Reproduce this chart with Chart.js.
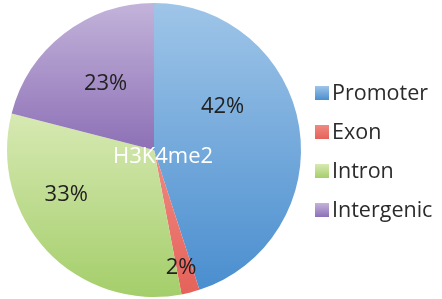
<!DOCTYPE html>
<html>
<head>
<meta charset="utf-8">
<script src="https://cdn.jsdelivr.net/npm/chart.js@4.4.1/dist/chart.umd.min.js"></script>
<style>
  html, body { margin: 0; padding: 0; background: #fff; }
  #wrap { width: 442px; height: 299px; position: relative; }
</style>
</head>
<body>
<div id="wrap"><canvas id="myChart"></canvas></div>
<script>
const categories = ['Promoter', 'Exon', 'Intron', 'Intergenic'];
const shares = [45, 2, 32, 21];          // slice sizes as drawn
const shareLabels = ['42%', '2%', '33%', '23%']; // printed labels
const centerTitle = 'H3K4me2';

// gradient top / bottom colours for each slice
const topColors = ['#9fc5e8', '#ef8a82', '#d7e9b3', '#c3b3da'];
const bottomColors = ['#4a8ecf', '#e5625a', '#a4ce6a', '#8d70b6'];

// where each label sits: angle from 12 o'clock (deg), fraction of radius
const labelSpots = [
    { a: 58, r: 0.55 },
    { a: 167, r: 0.82 },
    { a: 243, r: 0.67 },
    { a: 324, r: 0.56 }
];

const FONT = '"Open Sans", sans-serif';

// vertical extent of one slice, so the gradient runs over that slice only
function sliceYRange(chart, i) {
    const area = chart.chartArea;
    const cy = (area.top + area.bottom) / 2;
    const r = Math.min(area.right - area.left, area.bottom - area.top) / 2;
    const total = shares.reduce((s, v) => s + v, 0);
    let start = 0;
    for (let k = 0; k < i; k++) start += shares[k];
    const a0 = start / total * 360;
    const a1 = (start + shares[i]) / total * 360;
    const ys = [cy];
    [a0, a1].forEach(a => ys.push(cy - r * Math.cos(a * Math.PI / 180)));
    if (a0 <= 0) ys.push(cy - r);
    if (a0 <= 180 && a1 >= 180) ys.push(cy + r);
    if (a1 >= 360) ys.push(cy - r);
    return [Math.min(...ys), Math.max(...ys)];
}

function sliceFill(context) {
    const chart = context.chart;
    if (!chart.chartArea) return topColors[context.dataIndex];
    const i = context.dataIndex;
    const [y0, y1] = sliceYRange(chart, i);
    const g = chart.ctx.createLinearGradient(0, y0, 0, y1);
    g.addColorStop(0, topColors[i]);
    g.addColorStop(1, bottomColors[i]);
    return g;
}

const labelPlugin = {
    id: 'pieText',
    afterDatasetsDraw(chart) {
        const ctx = chart.ctx;
        const area = chart.chartArea;
        const cx = (area.left + area.right) / 2;
        const cy = (area.top + area.bottom) / 2;
        const r = Math.min(area.right - area.left, area.bottom - area.top) / 2;
        ctx.save();
        ctx.textAlign = 'center';
        ctx.textBaseline = 'middle';
        ctx.font = '22px ' + FONT;
        ctx.fillStyle = '#222222';
        shareLabels.forEach((t, i) => {
            const s = labelSpots[i];
            const a = s.a * Math.PI / 180;
            ctx.fillText(t, cx + s.r * r * Math.sin(a), cy - s.r * r * Math.cos(a));
        });
        ctx.fillStyle = '#ffffff';
        ctx.font = '22px ' + FONT;
        ctx.fillText(centerTitle, cx + 9, cy + 7);

        // legend on the right
        const lx = 315, ly0 = 93, step = 39, box = 14;
        ctx.textAlign = 'left';
        ctx.font = '21.5px ' + FONT;
        categories.forEach((c, i) => {
            const y = ly0 + i * step;
            const g = ctx.createLinearGradient(0, y - box / 2, 0, y + box / 2);
            g.addColorStop(0, topColors[i]);
            g.addColorStop(1, bottomColors[i]);
            ctx.fillStyle = g;
            ctx.fillRect(lx, y - box / 2, box, box);
            ctx.fillStyle = '#2b2b2b';
            ctx.fillText(c, lx + box + 3, y + 1);
        });
        ctx.restore();
    }
};

function initPie() {
    const ctx = document.getElementById('myChart').getContext('2d');
    new Chart(ctx, {
        type: 'pie',
        data: {
            labels: categories,
            datasets: [{
                data: shares,
                backgroundColor: sliceFill,
                borderWidth: 0
            }]
        },
        options: {
            responsive: true,
            maintainAspectRatio: false,
            animation: false,
            layout: { padding: { left: 7, right: 141, top: 3, bottom: 2 } },
            plugins: {
                legend: { display: false },
                tooltip: { enabled: false }
            }
        },
        plugins: [labelPlugin]
    });
}
initPie();
</script>
</body>
</html>
